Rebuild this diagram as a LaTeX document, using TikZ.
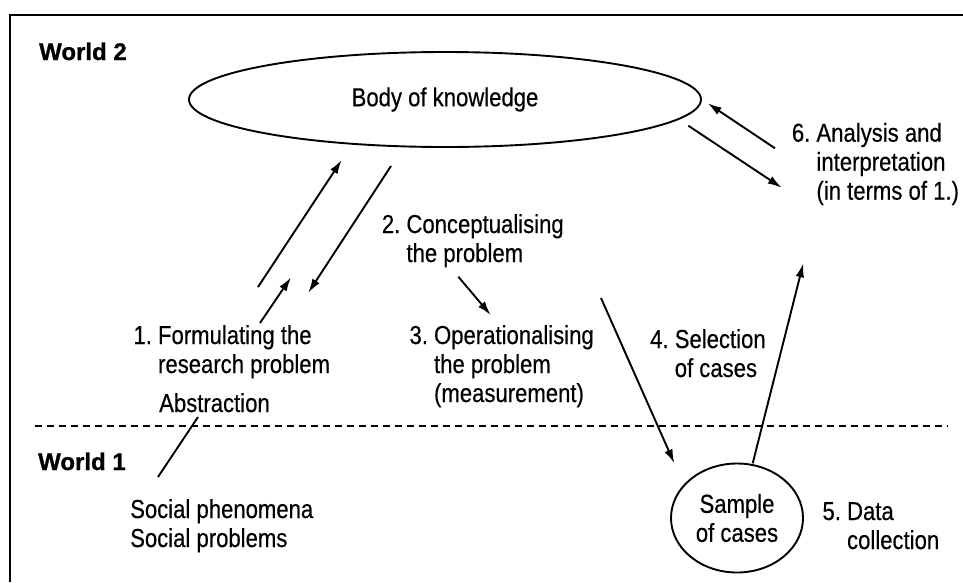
\documentclass[tikz,border=0pt]{standalone}
\usepackage{fontspec}
\setmainfont{Liberation Sans}[FakeStretch=0.85,FakeBold=0.4]
\newfontfamily\worldfont{Liberation Sans Bold}[FakeBold=1]
\usetikzlibrary{shapes.geometric,arrows.meta}
\tikzset{
  lbl/.style={anchor=base west, inner sep=0pt, align=left, font=\fontsize{26}{29}\selectfont},
  world/.style={anchor=base west, inner sep=0pt, font=\worldfont\fontsize{24}{29}\selectfont},
  arr/.style={line width=1.9pt, -{Latex[length=14pt,width=8.5pt]}},
  plain/.style={line width=1.9pt},
  oval/.style={draw, ellipse, line width=1.9pt, inner sep=0pt, align=center, font=\fontsize{26}{29}\selectfont}
}
\begin{document}
\begin{tikzpicture}[x=1pt,y=-1pt]
\useasboundingbox (0,0) rectangle (963,582);
% frame
\draw[line width=2.4pt] (10,582) -- (10,15) -- (963,15);
% dashed boundary
\coordinate (dl) at (35,426);
\coordinate (dr) at (948,426);
\draw[line width=1.5pt, dash pattern=on 7pt off 5pt] (dl) -- (dr);
% world labels
\node[world] (w2) at (39,60) {World 2};
\node[world] (w1) at (38,470) {World 1};
% ovals
\node[oval, minimum width=512pt, minimum height=95pt] (bok) at (445,99.5) {Body of knowledge};
\node[oval, minimum width=132pt, minimum height=109pt] (sample) at (737,518) {Sample\\of cases};
% labels (anchored at the baseline of their last line)
\node[lbl] (l1) at (133.3,373) {1.\ Formulating the\\\hphantom{1.\ }research problem};
\node[lbl] (abs) at (159,412) {Abstraction};
\node[lbl] (l2) at (381.7,262) {2.\ Conceptualising\\\hphantom{2.\ }the problem};
\node[lbl] (l3) at (409.3,402) {3.\ Operationalising\\\hphantom{3.\ }the problem\\\hphantom{3.\ }(measurement)};
\node[lbl] (l4) at (650,377) {4.\ Selection\\\hphantom{4.\ }of cases};
\node[lbl] (l5) at (822.3,549) {5.\ Data\\\hphantom{5.\ }collection};
\node[lbl] (l6) at (791.7,199.7) {6.\ Analysis and\\\hphantom{6.\ }interpretation\\\hphantom{6.\ }(in terms of 1.)};
\node[lbl] (soc) at (130,547) {Social phenomena\\Social problems};
% arrow end points
\coordinate (a1s) at (258,287);
\coordinate (a1e) at (341.7,160);
\coordinate (a2s) at (391,166);
\coordinate (a2e) at (308.3,292.7);
\coordinate (a3s) at (260,323);
\coordinate (a3e) at (291,277.3);
\coordinate (abs1) at (198,417);
\coordinate (abs2) at (158,477);
\coordinate (c23s) at (458.3,276.7);
\coordinate (c23e) at (490.7,315);
\coordinate (c4s) at (601,298);
\coordinate (c4e) at (674.3,463.3);
\coordinate (c5s) at (752.7,463.3);
\coordinate (c5e) at (803.3,263.3);
\coordinate (c6as) at (775,148.3);
\coordinate (c6ae) at (707.7,103.3);
\coordinate (c6bs) at (688.3,125.7);
\coordinate (c6be) at (781.7,187.7);
% connectors
\draw[arr] (a1s) -- (a1e);
\draw[arr] (a2s) -- (a2e);
\draw[arr] (a3s) -- (a3e);
\draw[plain] (abs1) -- (abs2);
\draw[arr] (c23s) -- (c23e);
\draw[arr] (c4s) -- (c4e);
\draw[arr] (c5s) -- (c5e);
\draw[arr] (c6as) -- (c6ae);
\draw[arr] (c6bs) -- (c6be);
\end{tikzpicture}
\end{document}
